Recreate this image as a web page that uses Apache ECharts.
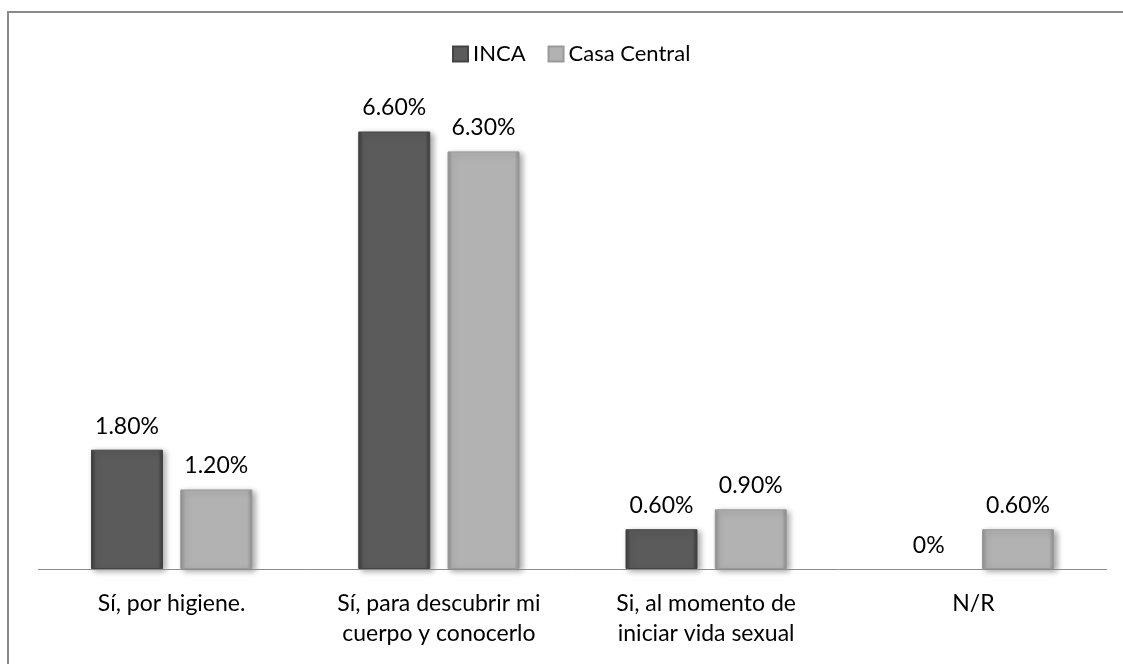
<!DOCTYPE html>
<html>
<head>
<meta charset="utf-8">
<script src="https://cdn.jsdelivr.net/npm/echarts@6/dist/echarts.min.js"></script>
<style>
  html, body { margin: 0; padding: 0; background: #fff; }
  #chart { width: 1123px; height: 664px; }
  #frame { position: absolute; left: 7px; top: 11px; right: 0; bottom: 0;
           border-top: 2px solid #8a8a8a; border-left: 2px solid #8a8a8a; pointer-events: none; }
</style>
</head>
<body>
<div id="chart"></div>
<div id="frame"></div>
<script>
// categories and values (percent)
const categories = ['Sí, por higiene.', 'Sí, para descubrir mi\ncuerpo y conocerlo', 'Si, al momento de\niniciar vida sexual', 'N/R']
const incaData = [1.8, 6.6, 0.6, 0]
const casaCentralData = [1.2, 6.3, 0.9, 0.6]

const font = 'Lato, "Open Sans", sans-serif'

function bevel(base, dark) {
  return new echarts.graphic.LinearGradient(0, 0, 1, 0, [
    { offset: 0, color: dark },
    { offset: 0.07, color: base },
    { offset: 0.93, color: base },
    { offset: 1, color: dark }
  ])
}

function barStyle(base, dark, border) {
  return {
    color: bevel(base, dark),
    borderColor: border,
    borderWidth: 1,
    shadowColor: 'rgba(0,0,0,0.35)',
    shadowBlur: 6,
    shadowOffsetX: 3,
    shadowOffsetY: 2
  }
}

// zero bars get no outline so nothing shows on the axis
function toItems(arr) {
  return arr.map(v => v === 0 ? { value: v, itemStyle: { borderWidth: 0, shadowBlur: 0 } } : v)
}

function pctLabel(p) {
  return p.value === 0 ? '0%' : p.value.toFixed(2) + '%'
}

const labelStyle = {
  show: true,
  position: 'top',
  distance: 12,
  formatter: pctLabel,
  fontFamily: font,
  fontSize: 23,
  color: '#000'
}

const chart = echarts.init(document.getElementById('chart'))
chart.setOption({
  animation: false,
  legend: {
    top: 38,
    left: 447,
    itemWidth: 15,
    itemHeight: 15,
    itemGap: 22,
    icon: 'rect',
    textStyle: { fontFamily: font, fontSize: 22, color: '#000' },
    data: ['INCA', 'Casa Central']
  },
  grid: {
    top: 105,
    left: 38,
    right: 16,
    bottom: 95,
    containLabel: false,
    outerBoundsMode: 'none'
  },
  xAxis: {
    type: 'category',
    data: categories,
    axisLine: { show: false },
    axisTick: { show: false },
    axisLabel: {
      fontFamily: font,
      fontSize: 23,
      color: '#000',
      lineHeight: 30,
      margin: 20,
      interval: 0
    }
  },
  yAxis: {
    type: 'value',
    min: 0,
    max: 7,
    show: false,
    splitLine: { show: false }
  },
  series: [{
    name: 'INCA',
    type: 'bar',
    data: toItems(incaData),
    barWidth: 72,
    barGap: '24%',
    itemStyle: barStyle('#5b5b5b', '#3a3a3a', '#444'),
    label: labelStyle,
    // baseline drawn across the plot width only
    markLine: {
      silent: true,
      symbol: 'none',
      label: { show: false },
      lineStyle: { color: '#8c8c8c', width: 1, type: 'solid' },
      data: [{ yAxis: 0 }]
    }
  }, {
    name: 'Casa Central',
    type: 'bar',
    data: toItems(casaCentralData),
    barWidth: 72,
    itemStyle: barStyle('#b2b2b2', '#8e8e8e', '#999'),
    label: labelStyle
  }]
})
</script>
</body>
</html>
